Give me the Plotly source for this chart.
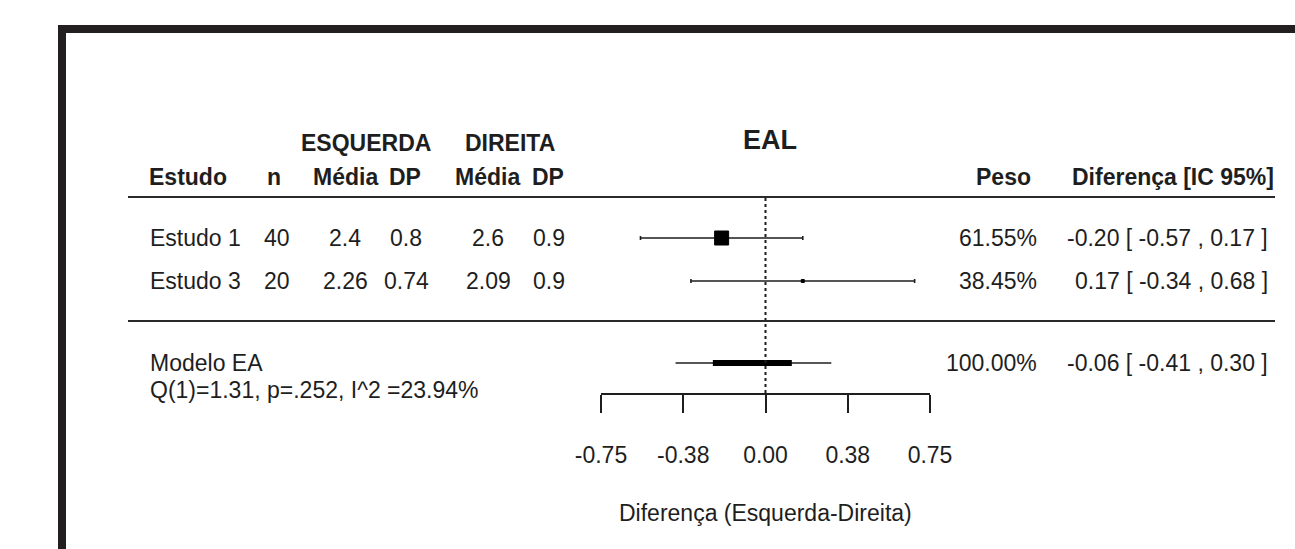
import plotly.graph_objects as go

# ---- data ----
studies = ["Estudo 1", "Estudo 3"]
n = [40, 20]
left_mean = [2.4, 2.26]
left_sd = [0.8, 0.74]
right_mean = [2.6, 2.09]
right_sd = [0.9, 0.9]
weights = [61.55, 38.45]
est = [-0.20, 0.17]
ci_lo = [-0.57, -0.34]
ci_hi = [0.17, 0.68]

model_label = "Modelo EA"
model_stats = "Q(1)=1.31, p=.252, I^2 =23.94%"
model_weight = 100.00
model_est = -0.06
model_ci = [-0.41, 0.30]
model_band = [-0.24, 0.12]

tick_vals = [-0.75, -0.375, 0.0, 0.375, 0.75]
tick_text = ["-0.75", "-0.38", "0.00", "0.38", "0.75"]
null_value = 0.0

# ---- canvas geometry (pixels) ----
W, H = 1295, 549
AX_X0, AX_X1 = 601, 930
AX_Y = 394
ROW_Y = [238, 281]
MODEL_Y = 363
HEAD_Y = 177
GROUP_Y = 143

INK = "#1e1e1e"
FONT = "Arial, Liberation Sans, sans-serif"
FS = 23


def px(x):
    return x / W


fig = go.Figure()

# study confidence intervals (drawn first, squares on top)
fig.add_trace(go.Scatter(
    x=est, y=ROW_Y, mode="markers",
    marker=dict(size=1, color="rgba(0,0,0,0)"),
    error_x=dict(type="data", symmetric=False,
                 array=[h - e for h, e in zip(ci_hi, est)],
                 arrayminus=[e - l for e, l in zip(est, ci_lo)],
                 color=INK, thickness=1.6, width=2),
    showlegend=False, hoverinfo="skip",
))

# study point estimates, square size scaled by weight
wmin, wmax = min(weights), max(weights)
sizes = [3 + (w - wmin) / (wmax - wmin) * 11 for w in weights]
fig.add_trace(go.Scatter(
    x=est, y=ROW_Y, mode="markers",
    marker=dict(symbol="square", size=sizes, color="#000000", opacity=1,
                line=dict(color="#000000", width=1)),
    showlegend=False, hoverinfo="skip",
))

# pooled estimate: CI line plus thick central band
fig.add_trace(go.Scatter(
    x=model_ci, y=[MODEL_Y, MODEL_Y], mode="lines",
    line=dict(color=INK, width=1.6), showlegend=False, hoverinfo="skip",
))
fig.add_trace(go.Scatter(
    x=model_band, y=[MODEL_Y, MODEL_Y], mode="lines",
    line=dict(color="black", width=6), showlegend=False, hoverinfo="skip",
))

shapes = []
# reference line at no difference
shapes.append(dict(type="line", xref="x", yref="y", x0=null_value, x1=null_value,
                   y0=198, y1=AX_Y, line=dict(color=INK, width=2, dash="dot")))
# horizontal rules
for yy in (197, 321):
    shapes.append(dict(type="line", xref="paper", yref="y", x0=px(128), x1=px(1275),
                       y0=yy, y1=yy, line=dict(color="#2a2a2a", width=2)))
# thick frame (top and left edges)
shapes.append(dict(type="rect", xref="paper", yref="y", x0=px(58), x1=px(1300),
                   y0=25, y1=33, fillcolor="#231f20", line=dict(width=0)))
shapes.append(dict(type="rect", xref="paper", yref="y", x0=px(58), x1=px(66),
                   y0=25, y1=560, fillcolor="#231f20", line=dict(width=0)))

ann = []


def text(x, y, s, anchor="center", size=FS, bold=False):
    ann.append(dict(x=px(x), y=y, xref="paper", yref="y", text=f"<b>{s}</b>" if bold else s,
                    showarrow=False, xanchor=anchor, yanchor="middle",
                    font=dict(family=FONT, size=size, color=INK)))


# headers
text(770, 140, "EAL", size=27, bold=True)
text(366, GROUP_Y, "ESQUERDA", bold=True)
text(510, GROUP_Y, "DIREITA", bold=True)
text(147, HEAD_Y, "Estudo", anchor="left", bold=True)
text(274, HEAD_Y, "n", bold=True)
text(345, HEAD_Y, "Média", bold=True)
text(405, HEAD_Y, "DP", bold=True)
text(487, HEAD_Y, "Média", bold=True)
text(548, HEAD_Y, "DP", bold=True)
text(1033, HEAD_Y, "Peso", anchor="right", bold=True)
text(1070, HEAD_Y, "Diferença [IC 95%]", anchor="left", bold=True)


def fmt_ci(e, lo, hi):
    return f"{e:.2f} [ {lo:.2f} , {hi:.2f} ]"


# study rows
for i, yy in enumerate(ROW_Y):
    text(148, yy, studies[i], anchor="left")
    text(277, yy, str(n[i]))
    text(345, yy, str(left_mean[i]))
    text(406, yy, str(left_sd[i]))
    text(488, yy, str(right_mean[i]))
    text(549, yy, str(right_sd[i]))
    text(1039, yy, f"{weights[i]:.2f}%", anchor="right")
    text(1270, yy, fmt_ci(est[i], ci_lo[i], ci_hi[i]), anchor="right")

# pooled row
text(148, MODEL_Y, model_label, anchor="left")
text(148, 390, model_stats, anchor="left")
text(1039, MODEL_Y, f"{model_weight:.2f}%", anchor="right")
text(1270, MODEL_Y, fmt_ci(model_est, model_ci[0], model_ci[1]), anchor="right")

# axis title
text(765, 513, "Diferença (Esquerda-Direita)")

fig.update_layout(
    width=W, height=H,
    margin=dict(l=0, r=0, t=0, b=0, autoexpand=False),
    paper_bgcolor="white", plot_bgcolor="white",
    shapes=shapes, annotations=ann,
    xaxis=dict(domain=[px(AX_X0), px(AX_X1)], range=[-0.75, 0.75],
               anchor="free", position=(H - AX_Y) / H, automargin=False,
               showline=True, linewidth=2, linecolor=INK,
               ticks="outside", ticklen=18, tickwidth=2, tickcolor=INK,
               tickvals=tick_vals, ticktext=tick_text, ticklabelstandoff=22,
               tickfont=dict(family=FONT, size=FS, color=INK),
               showgrid=False, zeroline=False, fixedrange=True),
    yaxis=dict(domain=[0, 1], range=[H, 0], visible=False, automargin=False,
               fixedrange=True),
)

fig.write_html("out.html")
